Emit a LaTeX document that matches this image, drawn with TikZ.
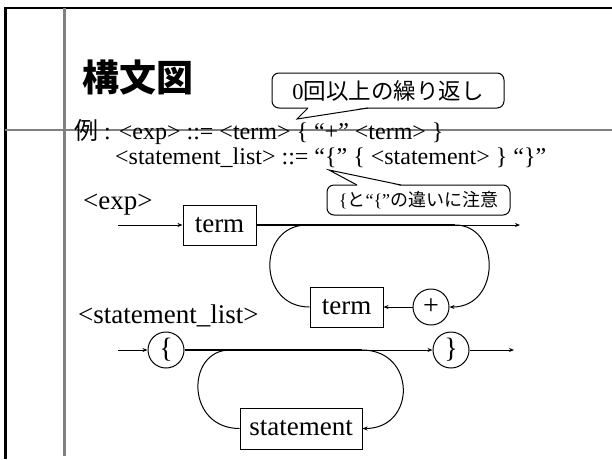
\documentclass[tikz,border=0pt]{standalone}
\usepackage{fontspec}
\setmainfont{Liberation Serif}
\newfontfamily\jp{Noto Sans CJK JP}
\usetikzlibrary{arrows.meta}
\begin{document}
\begin{tikzpicture}[x=1pt,y=-1pt,
  arr/.style={-{Stealth[length=5pt,width=4pt]}},
  ln/.style={line width=1pt},
  thick line/.style={line width=2pt},
  boxnode/.style={draw,line width=1pt,inner sep=0pt,minimum height=40pt,font=\fontsize{27}{30}\selectfont},
  circnode/.style={draw,circle,line width=1pt,inner sep=0pt,minimum size=36pt,font=\fontsize{28}{30}\selectfont},
  lbl/.style={anchor=base west,inner sep=0pt,font=\fontsize{27}{30}\selectfont},
  hdr/.style={anchor=base west,inner sep=0pt,font=\fontsize{24}{28}\selectfont},
  callout/.style={draw,line width=1pt,rounded corners=7pt,fill=white,inner sep=0pt}
]
\useasboundingbox (0,0) rectangle (612,459);
% frame
\draw[black,line width=2.5pt] (5.5,459) -- (5.5,8) -- (612,8);
\draw[gray,line width=3pt] (64,8) -- (64,456);
\draw[gray,line width=1.6pt] (5,130) -- (612,130);
% title
\node[anchor=west,inner sep=0pt,font=\jp\bfseries\fontsize{37}{40}\selectfont] (title) at (82,78) {構文図};
% header lines
\node[hdr] (l1) at (74,139) {{\jp 例} : <exp> ::= <term> \{ “+” <term> \}};
\node[hdr] (l2) at (115,164) {<statement\_list> ::= “\{” \{ <statement> \} “\}”};
% callout 1
\node[callout,minimum width=232pt,minimum height=35pt,font=\fontsize{22.5}{26}\selectfont] (c1) at (388,90.5) {0{\jp 回以上の繰り返し}};
\coordinate (c1tip) at (297,119);
\coordinate (c1a) at (308,108);
\coordinate (c1b) at (368,108);
\fill[white] (308.5,107.2) -- (c1tip) -- (367.5,107.2) -- cycle;
\draw[ln,line join=miter] (c1a) -- (c1tip) -- (c1b);
% callout 2
\node[callout,minimum width=183pt,minimum height=30pt,font=\fontsize{18}{21}\selectfont] (c2) at (418.5,200) {\{{\jp と}“\{”{\jp の違いに注意}};
\coordinate (c2tip) at (329,170);
\coordinate (c2a) at (357,185);
\coordinate (c2b) at (401,185);
\fill[white] (357.5,185.8) -- (c2tip) -- (400.5,185.8) -- cycle;
\draw[ln] (c2a) -- (c2tip) -- (c2b);
% <exp> diagram
\node[lbl] (explbl) at (83,209) {<exp>};
\node[boxnode,minimum width=73pt] (term1) at (219.5,225) {term};
\node[boxnode,minimum width=73pt] (term2) at (346.5,307) {term};
\node[circnode] (plus) at (431,307) {+};
\coordinate (ein) at (118,225);
\coordinate (eL) at (307,225);
\coordinate (eR) at (455,225);
\coordinate (eout) at (520,225);
\draw[ln,arr] (ein) -- (term1.west);
\draw[thick line] (term1.east) -- (eR);
\draw[ln,arr] (eR) -- (eout);
\draw[ln] (eL) .. controls (257,225) and (257,307) .. (term2.west);
\draw[ln,arr] (eR) .. controls (501,225) and (501,307) .. (plus.east);
\draw[ln,arr] (plus.west) -- (term2.east);
% <statement_list> diagram
\node[lbl] (sllbl) at (78,323) {<statement\_list>};
\node[circnode] (lb) at (166,350) {\{};
\node[circnode] (rb) at (451,350) {\}};
\node[boxnode,minimum width=122pt,minimum height=41pt] (stmt) at (301,428.5) {statement};
\coordinate (sin) at (118,350);
\coordinate (sL) at (230,350);
\coordinate (sR) at (362,350);
\coordinate (sout) at (514,350);
\draw[ln,arr] (sin) -- (lb.west);
\draw[thick line] (lb.east) -- (sR);
\draw[ln,arr] (sR) -- (rb.west);
\draw[ln,arr] (rb.east) -- (sout);
\draw[ln] (sL) .. controls (185.7,350) and (185.7,428.5) .. (stmt.west);
\draw[ln,arr] (sR) .. controls (416.5,350) and (416.5,428.5) .. (stmt.east);
\end{tikzpicture}
\end{document}
